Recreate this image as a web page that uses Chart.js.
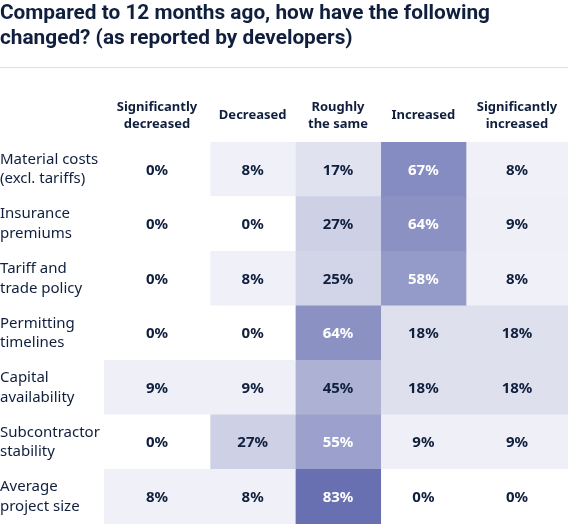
<!DOCTYPE html>
<html>
<head>
<meta charset="utf-8">
<script src="https://cdn.jsdelivr.net/npm/chart.js@4.4.1/dist/chart.umd.min.js"></script>
<style>
  html, body { margin: 0; padding: 0; background: #fff; }
  #wrap { width: 568px; height: 525px; position: relative; }
</style>
</head>
<body>
<div id="wrap"><canvas id="myChart"></canvas></div>
<script>
// rows of the table
var rowLabels = [
  ['Material costs', '(excl. tariffs)'],
  ['Insurance', 'premiums'],
  ['Tariff and', 'trade policy'],
  ['Permitting', 'timelines'],
  ['Capital', 'availability'],
  ['Subcontractor', 'stability'],
  ['Average', 'project size']
];

// column headers
var colLabels = [
  ['Significantly', 'decreased'],
  ['Decreased'],
  ['Roughly', 'the same'],
  ['Increased'],
  ['Significantly', 'increased']
];

// share of developers (%) per column, one value per row
var sigDecreased = [0, 0, 0, 0, 9, 0, 8];
var decreased    = [8, 0, 8, 0, 9, 27, 8];
var roughlySame  = [17, 27, 25, 64, 45, 55, 83];
var increased    = [67, 64, 58, 18, 18, 9, 0];
var sigIncreased = [8, 9, 8, 18, 18, 9, 0];

var series = [sigDecreased, decreased, roughlySame, increased, sigIncreased];

// layout: pixel width of each column (table columns are not equal)
var colWidths = [106, 85.3, 85.4, 85.3, 102];

var navy = '#0f1f3d';
var font = "'Noto Sans', sans-serif";

function cellColor(v) {
  // white -> indigo, scaled by the percentage
  var t = v / 100;
  var r = Math.round(255 - t * (255 - 73));
  var g = Math.round(255 - t * (255 - 83));
  var b = Math.round(255 - t * (255 - 162));
  return 'rgb(' + r + ',' + g + ',' + b + ')';
}

var datasets = series.map(function (vals, j) {
  return {
    label: colLabels[j].join(' '),
    data: vals.map(function () { return colWidths[j]; }),
    pct: vals,
    backgroundColor: vals.map(cellColor),
    borderWidth: 0,
    categoryPercentage: 1,
    barPercentage: 1
  };
});

var tablePlugin = {
  id: 'tablePlugin',
  afterDraw: function (chart) {
    var ctx = chart.ctx;
    var area = chart.chartArea;
    ctx.save();

    // separator under the title
    ctx.strokeStyle = '#dddddd';
    ctx.lineWidth = 1;
    ctx.beginPath();
    ctx.moveTo(0, area.top - 74.5);
    ctx.lineTo(chart.width, area.top - 74.5);
    ctx.stroke();

    ctx.textAlign = 'center';
    ctx.textBaseline = 'alphabetic';

    chart.data.datasets.forEach(function (ds, j) {
      var meta = chart.getDatasetMeta(j);

      // header
      var first = meta.data[0].getProps(['x', 'base'], true);
      var cx = (first.x + first.base) / 2;
      ctx.fillStyle = navy;
      ctx.font = 'bold 13px ' + font;
      var lines = colLabels[j];
      if (lines.length === 2) {
        ctx.fillText(lines[0], cx, area.top - 30.6);
        ctx.fillText(lines[1], cx, area.top - 14.3);
      } else {
        ctx.fillText(lines[0], cx, area.top - 22.8);
      }

      // cell values
      ctx.font = 'bold 15px ' + font;
      ctx.textBaseline = 'middle';
      meta.data.forEach(function (el, i) {
        var p = el.getProps(['x', 'y', 'base'], true);
        var v = ds.pct[i];
        ctx.fillStyle = v >= 50 ? '#ffffff' : navy;
        ctx.fillText(v + '%', (p.x + p.base) / 2, p.y + 1);
      });
      ctx.textBaseline = 'alphabetic';
    });

    ctx.restore();
  }
};

var config = {
  type: 'bar',
  data: {
    labels: rowLabels,
    datasets: datasets
  },
  options: {
    indexAxis: 'y',
    responsive: true,
    maintainAspectRatio: false,
    animation: false,
    layout: { padding: { top: 0, right: 0, bottom: 1, left: 0 } },
    plugins: {
      legend: { display: false },
      tooltip: { enabled: false },
      title: {
        display: true,
        align: 'start',
        text: ['Compared to 12 months ago, how have the following', 'changed? (as reported by developers)'],
        color: navy,
        font: { family: "Roboto, 'Noto Sans', sans-serif", size: 20.8, weight: 'bold', lineHeight: 1.18 },
        padding: { top: 2, bottom: 91 }
      }
    },
    scales: {
      x: {
        stacked: true,
        display: false,
        min: 0,
        max: colWidths.reduce(function (a, b) { return a + b; }, 0)
      },
      y: {
        stacked: true,
        grid: { display: false, drawTicks: false },
        border: { display: false },
        ticks: {
          crossAlign: 'far',
          padding: 0,
          color: navy,
          font: { family: font, size: 15, lineHeight: 1.3 }
        },
        afterFit: function (scale) {
          scale.width = 104;
          scale.paddingTop = 0;
          scale.paddingBottom = 0;
        }
      }
    }
  },
  plugins: [tablePlugin]
};

new Chart(document.getElementById('myChart'), config);
</script>
</body>
</html>
